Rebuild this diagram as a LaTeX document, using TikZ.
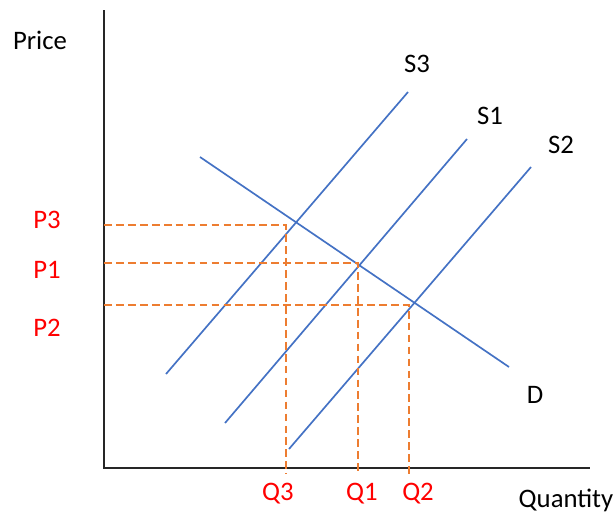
\documentclass[tikz,border=0pt]{standalone}
\usepackage{fontspec}
\setmainfont{Carlito}
\definecolor{lineblue}{RGB}{68,114,196}
\definecolor{guideorange}{RGB}{237,125,49}
\definecolor{labred}{RGB}{255,0,0}
\tikzset{
  axis/.style={line width=1.1pt, black!85},
  curve/.style={line width=1.2pt, lineblue},
  guide/.style={line width=0.9pt, guideorange, dash pattern=on 5.5pt off 3pt},
  lab/.style={text=labred}
}
\begin{document}
\begin{tikzpicture}[x=0.025cm, y=-0.025cm, font=\fontsize{19}{22}\selectfont]
	\useasboundingbox (0,0) rectangle (615,515);
	% axes
	\coordinate (ytop) at (104,10);
	\coordinate (O) at (104,468);
	\coordinate (xend) at (590,468);
	\draw[axis] (ytop) -- (O) -- (xend);
	\node (price) at (40,40) {Price};
	\node (qty) at (566,500) {Quantity};
	% demand and supply curves
	\coordinate (d0) at (200,157);
	\coordinate (d1) at (509,367);
	\coordinate (s30) at (166,374);
	\coordinate (s31) at (408,92);
	\coordinate (s10) at (225,423);
	\coordinate (s11) at (467,139);
	\coordinate (s20) at (289,449);
	\coordinate (s21) at (531,167);
	\draw[curve] (d0) -- (d1);
	\draw[curve] (s30) -- (s31);
	\draw[curve] (s10) -- (s11);
	\draw[curve] (s20) -- (s21);
	\node (labD) at (535,395) {D};
	\node (labS3) at (417,64) {S3};
	\node (labS1) at (490,116) {S1};
	\node (labS2) at (561,145) {S2};
	% equilibrium guides
	\coordinate (e3) at (286,225);
	\coordinate (e1) at (358,263);
	\coordinate (e2) at (409,305);
	\coordinate (p3) at (104,225);
	\coordinate (p1) at (104,263);
	\coordinate (p2) at (104,305);
	\coordinate (q3) at (286,474);
	\coordinate (q1) at (358,474);
	\coordinate (q2) at (409,477);
	\draw[guide] (p3) -- (e3) -- (q3);
	\draw[guide] (p1) -- (e1) -- (q1);
	\draw[guide] (p2) -- (e2) -- (q2);
	\node[lab] (labP3) at (47,220) {P3};
	\node[lab] (labP1) at (47,270) {P1};
	\node[lab] (labP2) at (47,328) {P2};
	\node[lab] (labQ3) at (278,494) {Q3};
	\node[lab] (labQ1) at (362,494) {Q1};
	\node[lab] (labQ2) at (418,494) {Q2};
\end{tikzpicture}
\end{document}
